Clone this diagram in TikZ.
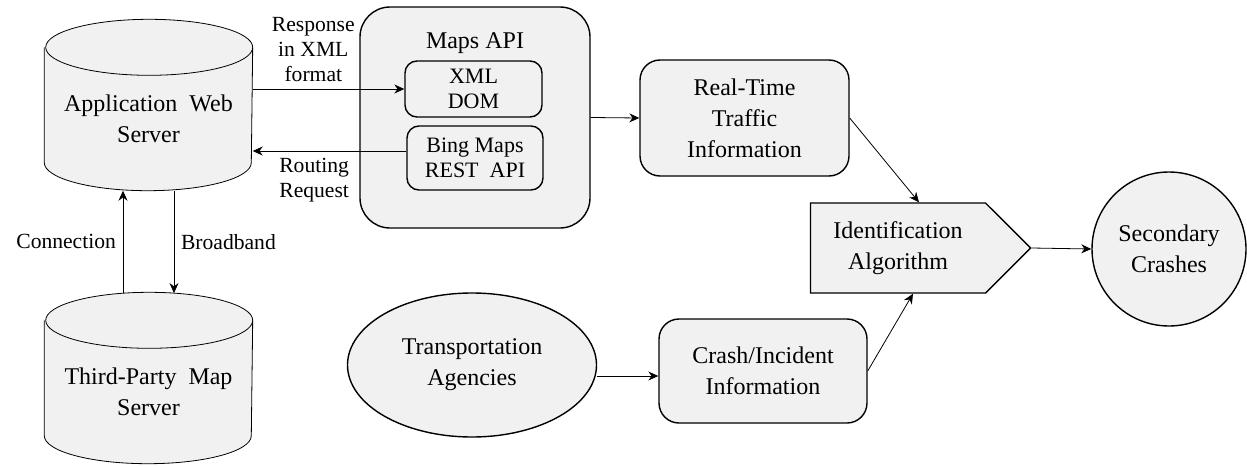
\documentclass[tikz,border=0pt]{standalone}
\usepackage{fontspec}
\setmainfont{Liberation Serif}
\usetikzlibrary{shapes.geometric,shapes.symbols,arrows.meta}
\pgfdeclarelayer{background}
\pgfsetlayers{background,main}
\definecolor{boxfill}{HTML}{F1F1F1}
\begin{document}
\begin{tikzpicture}[x=0.5pt,y=-0.5pt,line width=0.7pt,>={Stealth[length=5pt,width=4.5pt]},
	every node/.style={font=\fontsize{12}{15.5}\selectfont,align=center},
	db/.style={minimum width=103.5pt,minimum height=71pt,inner sep=0pt},
	roundbox/.style={draw,fill=boxfill,rounded corners=10pt,inner sep=0pt},
	smallbox/.style={draw,fill=boxfill,rounded corners=6pt,inner sep=0pt,font=\fontsize{11}{12.5}\selectfont},
	lbl/.style={font=\fontsize{10.8}{12.5}\selectfont}]
	\useasboundingbox (0,0) rectangle (1247,466);
	\node[db] (aws) at (148.5,119) {Application\ \ Web\\Server};
	\node[db] (tpm) at (148.5,392) {Third-Party\ \ Map\\Server};
	\node[roundbox,rounded corners=15pt,minimum width=115pt,minimum height=110.5pt] (maps) at (475,117.5) {};
	\node (mapstitle) at (475,43) {Maps API};
	\node[smallbox,minimum width=68.5pt,minimum height=28pt] (xml) at (473.5,89) {XML\\DOM};
	\node[smallbox,minimum width=68pt,minimum height=32pt] (bing) at (475,158) {Bing Maps\\REST\ \ API};
	\node[roundbox,minimum width=104.5pt,minimum height=58pt] (rtt) at (744.5,118) {Real-Time\\Traffic\\Information};
	\node[signal,signal to=east,signal pointer angle=90,draw,fill=boxfill,minimum width=110pt,minimum height=45pt,inner sep=0pt] (ident) at (898,248) {Identification\\Algorithm};
	\node[circle,draw,fill=boxfill,minimum size=77pt,inner sep=0pt] (sec) at (1169,249) {Secondary\\Crashes};
	\node[ellipse,draw,fill=boxfill,minimum width=124.5pt,minimum height=72pt,inner sep=0pt] (ta) at (472,365) {Transportation\\Agencies};
	\node[roundbox,minimum width=104pt,minimum height=52pt] (cii) at (763,371) {Crash/Incident\\Information};
	\begin{pgfonlayer}{background}
		\foreach \n in {aws,tpm}
			\draw[fill=boxfill] (\n.north west) -- ([yshift=14pt]\n.south west) arc[start angle=180,end angle=360,x radius=51.75pt,y radius=14pt] -- (\n.north east) arc[start angle=0,end angle=360,x radius=51.75pt,y radius=14pt];
	\end{pgfonlayer}
	\draw[->] (xml.west -| aws.east) -- node[lbl,above,pos=0.4] {Response\\in XML\\format} (xml.west);
	\draw[->] ([yshift=3.5pt]bing.west) -- node[lbl,below,pos=0.6] {Routing\\Request} ([yshift=3.5pt]bing.west -| aws.east);
	\draw[->] ([shift={(-12.75pt,13.6pt)}]tpm.north) -- node[lbl,left] {Connection} ([xshift=-12.75pt]aws.south);
	\draw[->] ([xshift=12.75pt]aws.south) -- node[lbl,right] {Broadband} ([shift={(12.75pt,13.6pt)}]tpm.north);
	\draw[->] (maps.east) -- (rtt.west);
	\draw[->] (rtt.east) -- ([xshift=10.5pt]ident.north);
	\draw[->] ([yshift=-2.5pt]cii.west -| ta.east) -- ([yshift=-2.5pt]cii.west);
	\draw[->] (cii.east) -- ([xshift=7.5pt]ident.south);
	\draw[->] (ident.east) -- (sec.west);
\end{tikzpicture}
\end{document}
